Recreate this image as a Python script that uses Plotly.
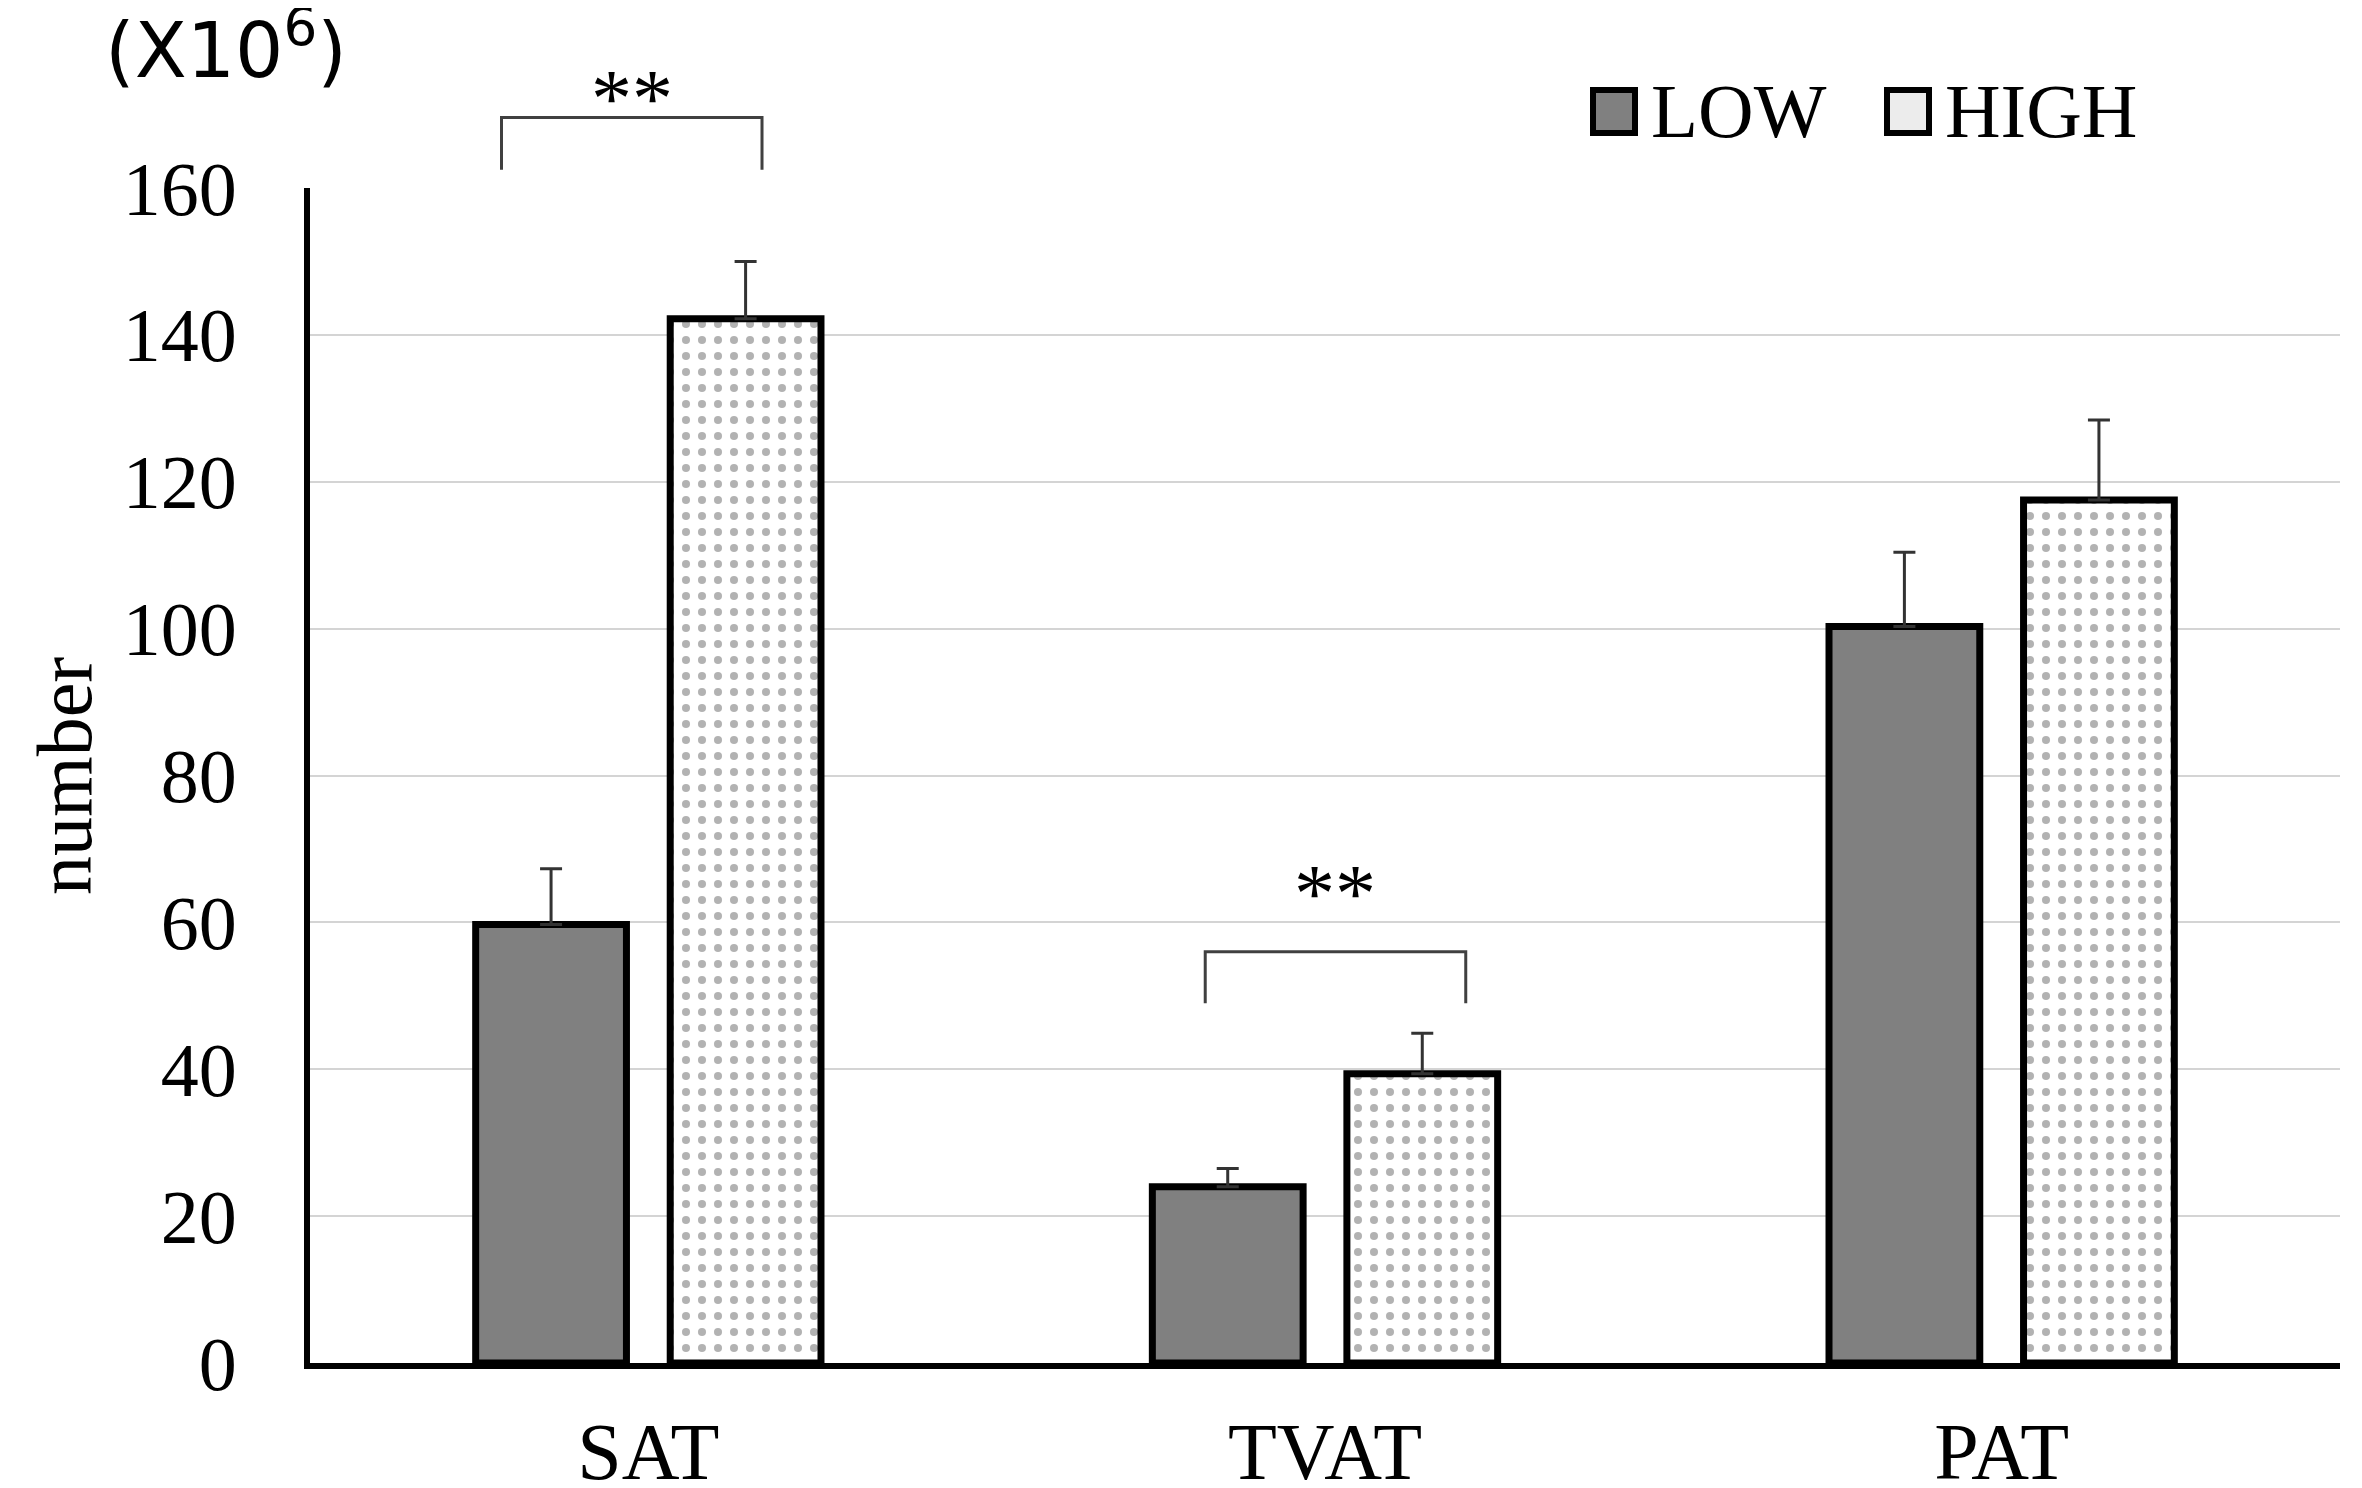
import plotly.graph_objects as go

# fat depot counts (x10^6)
categories = ['SAT', 'TVAT', 'PAT']
low_values = [59.7, 24.0, 100.3]
low_errors = [7.6, 2.5, 10.1]
high_values = [142.2, 39.4, 117.5]
high_errors = [7.8, 5.5, 10.9]
y_ticks = [0, 20, 40, 60, 80, 100, 120, 140, 160]

# significance brackets
sig_categories = ['SAT', 'TVAT']
sig_labels = ['**', '**']

W, H = 2362, 1488
OFF_X, OFF_Y = 4, 8  # the page body margin shifts the figure
L, R, T, B = 306 - OFF_X, 26 + OFF_X, 188 - OFF_Y, 125 + OFF_Y
Y_MAX = 160
PLOT_LEFT, PLOT_BOTTOM = 306, 1363
PLOT_W, PLOT_H = W - L - R, H - T - B

SERIF = 'Liberation Serif, Times New Roman, serif'


def px_x(px):
  '''screen pixel x -> paper x'''
  return (px - PLOT_LEFT) / PLOT_W


def px_y(px):
  '''screen pixel y (from top) -> paper y'''
  return (PLOT_BOTTOM - px) / PLOT_H


fig = go.Figure()
fig.add_trace(go.Bar(
    x=categories, y=low_values, name='LOW', showlegend=False,
    marker=dict(color='#808080', line=dict(color='black', width=7)),
    error_y=dict(type='data', array=low_errors, symmetric=False, arrayminus=[0] * 3,
                 color='#333333', thickness=3, width=11)))
fig.add_trace(go.Bar(
    x=categories, y=high_values, name='HIGH', showlegend=False,
    marker=dict(color='white', line=dict(color='black', width=7),
                pattern=dict(shape='.', fgcolor='#666666', bgcolor='white', size=16, solidity=0.2)),
    error_y=dict(type='data', array=high_errors, symmetric=False, arrayminus=[0] * 3,
                 color='#333333', thickness=3, width=11)))

# brackets (offsets in category units, heights in data units)
bracket_spans = [(-0.217, 0.168), (-0.177, 0.208)]
bracket_tops = [169.6, 56.0]
bracket_legs = [162.5, 49.0]
star_levels = [172.2, 64.0]
shapes = []
annotations = []
for cat, (x0, x1), top, leg, star, lab in zip(sig_categories, bracket_spans, bracket_tops,
                                               bracket_legs, star_levels, sig_labels):
  ci = categories.index(cat)
  shapes.append(dict(type='path', xref='x', yref='paper',
                     path=f'M {ci + x0},{leg / Y_MAX} L {ci + x0},{top / Y_MAX} '
                          f'L {ci + x1},{top / Y_MAX} L {ci + x1},{leg / Y_MAX}',
                     line=dict(color='#404040', width=3)))
  annotations.append(dict(x=ci + (x0 + x1) / 2, y=star / Y_MAX, xref='x', yref='paper',
                          text=lab, showarrow=False, xanchor='center', yanchor='middle',
                          font=dict(family=SERIF, size=82, color='black')))

# legend drawn by hand so the swatches match the size of the text
shapes.append(dict(type='rect', xref='paper', yref='paper', x0=px_x(1589), x1=px_x(1631),
                   y0=px_y(133), y1=px_y(90), fillcolor='#808080',
                   line=dict(color='black', width=6)))
shapes.append(dict(type='rect', xref='paper', yref='paper', x0=px_x(1883), x1=px_x(1925),
                   y0=px_y(133), y1=px_y(90), fillcolor='#ececec',
                   line=dict(color='black', width=6)))
annotations.append(dict(x=px_x(1645), y=px_y(111), xref='paper', yref='paper', text='LOW',
                        showarrow=False, xanchor='left', yanchor='middle',
                        font=dict(family=SERIF, size=77, color='black')))
annotations.append(dict(x=px_x(1939), y=px_y(111), xref='paper', yref='paper', text='HIGH',
                        showarrow=False, xanchor='left', yanchor='middle',
                        font=dict(family=SERIF, size=77, color='black')))

# unit label and axis title
annotations.append(dict(x=px_x(222), y=px_y(46), xref='paper', yref='paper',
                        text='(X10<sup>6</sup>)', showarrow=False, xanchor='center', yanchor='middle',
                        font=dict(family='DejaVu Sans', size=76, color='black')))
annotations.append(dict(x=px_x(60), y=px_y(776), xref='paper', yref='paper', text='number',
                        showarrow=False, textangle=-90, xanchor='center', yanchor='middle',
                        font=dict(family=SERIF, size=78, color='black')))

fig.update_layout(
    width=W, height=H,
    margin=dict(l=L, r=R, t=T, b=B, pad=0, autoexpand=False),
    paper_bgcolor='white', plot_bgcolor='white',
    barmode='group', bargap=0.425, bargroupgap=0.225,
    shapes=shapes, annotations=annotations,
    font=dict(family=SERIF, color='black'),
)
fig.update_xaxes(showline=True, linecolor='black', linewidth=6, ticks='', automargin=False,
                 tickfont=dict(family=SERIF, size=80, color='black'),
                 ticklabelstandoff=14, showgrid=False)
fig.update_yaxes(range=[0, Y_MAX], tickvals=y_ticks, showline=True, linecolor='black',
                 linewidth=6, ticks='', showgrid=True, gridcolor='#d4d4d4', gridwidth=2,
                 zeroline=False, automargin=False,
                 tickfont=dict(family=SERIF, size=76, color='black'),
                 ticklabelstandoff=52)

fig.write_html('out.html')
